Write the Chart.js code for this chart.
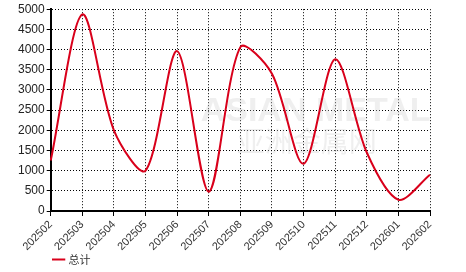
<!DOCTYPE html>
<html><head><meta charset="utf-8">
<script src="https://cdn.jsdelivr.net/npm/chart.js@4"></script>
<style>html,body{margin:0;padding:0;background:#fff}#wrap{width:466px;height:272px}</style>
</head><body><div id="wrap"><canvas id="c" width="466" height="272"></canvas></div>
<script>
const categories = ["202502","202503","202504","202505","202506","202507","202508","202509","202510","202511","202512","202601","202602"];
const totalValues = [1250,4870,2000,1000,3960,480,4060,3400,1170,3760,1450,280,900];
const seriesName = "总计";
const yTicks = [0,500,1000,1500,2000,2500,3000,3500,4000,4500,5000];

const watermark = {
  id:'wm',
  beforeDatasetsDraw(chart){
    const {ctx, chartArea:a} = chart;
    ctx.save();
    ctx.fillStyle='rgba(210,210,210,0.35)';
    ctx.font='bold 34px "Liberation Sans", Arial, sans-serif';
    ctx.textBaseline='alphabetic';
    ctx.fillText('ASIAN METAL', a.left+150, a.top+112);
    ctx.font='28px "Noto Sans CJK SC", sans-serif';
    ctx.fillText('亚洲金属网', a.left+186, a.top+143);
    ctx.restore();
  }
};
const legendShift = {
  id:'legendShift',
  afterLayout(chart){ if(chart.legend){ chart.legend.left = 52; chart.legend.top += 3; } }
};

new Chart(document.getElementById('c'), {
  type:'line',
  data:{labels:categories, datasets:[{label:seriesName, data:totalValues, borderColor:'#d9001b', backgroundColor:'#d9001b', borderWidth:2, pointRadius:0, tension:0.3, fill:false}]},
  options:{
    responsive:false, animation:false,
    layout:{padding:{left:16,right:36,top:4,bottom:0}},
    plugins:{
      legend:{position:'bottom', align:'start', labels:{usePointStyle:true, pointStyle:'line', boxWidth:16, color:'#333', font:{family:'"Noto Sans CJK SC", "Liberation Sans", sans-serif', size:11}, padding:0}},
      tooltip:{enabled:false}
    },
    scales:{
      x:{
        afterFit(axis){ axis.height = 40; },
        grid:{color:'#000', lineWidth:1, tickBorderDash:[], tickColor:'#000', tickLength:5, drawTicks:true},
        border:{color:'#000', width:2, dash:[1,2]},
        ticks:{color:'#333', maxRotation:45, minRotation:45, autoSkip:false, font:{family:'"Liberation Sans", Arial, sans-serif', size:11}, padding:2}
      },
      y:{
        min:0, max:5000,
        afterBuildTicks(axis){ axis.ticks = yTicks.map(v=>({value:v})); },
        grid:{color:'#000', lineWidth:1, tickBorderDash:[], tickColor:'#000', tickLength:4},
        border:{color:'#000', width:2, dash:[1,2]},
        ticks:{color:'#222', font:{family:'"Liberation Sans", Arial, sans-serif', size:12}, padding:2, callback:(v)=>String(v)}
      }
    }
  },
  plugins:[watermark, legendShift]
});
</script></body></html>
